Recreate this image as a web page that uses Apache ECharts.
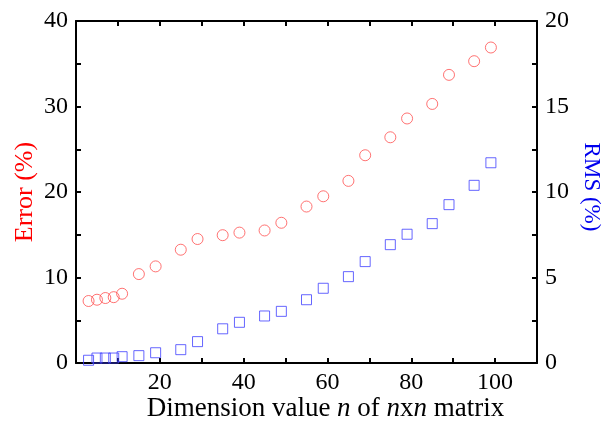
<!DOCTYPE html>
<html><head><meta charset="utf-8">
<script src="https://cdn.jsdelivr.net/npm/echarts@6/dist/echarts.min.js"></script>
<style>html,body{margin:0;padding:0;background:#fff}#c{width:603px;height:426px}</style>
</head><body><div id="c"></div>
<script>
const nValues = [3,5,7,9,11,15,19,25,29,35,39,45,49,55,59,65,69,75,79,85,89,95,99];
const errorValues = [7.25,7.4,7.6,7.7,8.1,10.4,11.3,13.25,14.5,14.95,15.25,15.5,16.4,18.3,19.5,21.3,24.3,26.4,28.6,30.3,33.7,35.3,36.9];
const rmsValues = [0.16,0.29,0.29,0.29,0.37,0.43,0.6,0.78,1.25,2.0,2.38,2.75,3.02,3.7,4.37,5.05,5.93,6.92,7.53,8.15,9.26,10.39,11.71];
const xTickLabels = [20,40,60,80,100];
const leftTickLabels = [0,10,20,30,40];
const rightTickLabels = [0,5,10,15,20];

const FONT = '"Liberation Serif","Times New Roman",serif';
const axisLine = {show:true, onZero:false, lineStyle:{color:'#000', width:2}};
const noTick = {show:false};
// tick-only helper axes moved inside the frame; their outward ticks point back to the frame line
const TL = 5;
const tickOnly = {show:true, inside:false, length:TL, lineStyle:{color:'#000', width:2}};
function tickAxis(base, pos){
  return Object.assign({}, base, {position:pos, offset:-TL, axisLine:{show:false, onZero:false},
    axisTick:tickOnly, axisLabel:{show:false}, splitLine:{show:false}, name:''});
}
const xBase = {type:'value', min:0, max:110, interval:10};
const yLBase = {type:'value', min:0, max:40, interval:5};
const yRBase = {type:'value', min:0, max:20, interval:2.5};

const chart = echarts.init(document.getElementById('c'), null, {renderer:'canvas'});
chart.setOption({
  animation:false,
  backgroundColor:'#fff',
  grid:{left:76, right:66, top:21, bottom:63, containLabel:false, outerBoundsMode:'none'},
  xAxis:[Object.assign({}, xBase, {
    position:'bottom', axisLine, axisTick:noTick, splitLine:{show:false},
    axisLabel:{color:'#000', fontFamily:FONT, fontSize:24, margin:8,
      formatter:v=>xTickLabels.includes(v)?String(v):''},
    name:'Dimension value {i|n} of {i|n}x{i|n} matrix', nameLocation:'middle', nameGap:32,
    nameMoveOverlap:false,
    nameTextStyle:{color:'#000', fontFamily:FONT, fontSize:27, padding:[0,0,0,38],
      rich:{i:{fontStyle:'italic', fontFamily:FONT, fontSize:27, color:'#000'}}}
  }), Object.assign({}, xBase, {
    position:'top', axisLine, axisTick:noTick, axisLabel:{show:false}, splitLine:{show:false}
  }), tickAxis(xBase,'bottom'), tickAxis(xBase,'top')],
  yAxis:[Object.assign({}, yLBase, {
    position:'left', axisLine, axisTick:noTick, splitLine:{show:false},
    axisLabel:{color:'#000', fontFamily:FONT, fontSize:24, margin:8,
      formatter:v=>leftTickLabels.includes(v)?String(v):''},
    name:'Error (%)', nameLocation:'middle', nameGap:38, nameMoveOverlap:false,
    nameTextStyle:{color:'#ff0000', fontFamily:FONT, fontSize:26}
  }), Object.assign({}, yRBase, {
    position:'right', axisLine, axisTick:noTick, splitLine:{show:false},
    axisLabel:{color:'#000', fontFamily:FONT, fontSize:24, margin:8,
      formatter:v=>rightTickLabels.includes(v)?String(v):''},
    name:'RMS (%)', nameLocation:'middle', nameGap:38, nameRotate:-90,
    nameTextStyle:{color:'#0000ee', fontFamily:FONT, fontSize:23, padding:[0,10,0,0]}
  }), tickAxis(yLBase,'left'), tickAxis(yRBase,'right')],
  series:[{
    type:'scatter', xAxisIndex:0, yAxisIndex:0,
    data:nValues.map((n,i)=>[n,errorValues[i]]),
    symbol:'circle', symbolSize:11,
    itemStyle:{color:'rgba(255,255,255,0)', borderColor:'#ff5050', borderWidth:1}
  },{
    type:'scatter', xAxisIndex:0, yAxisIndex:1,
    data:nValues.map((n,i)=>[n,rmsValues[i]]),
    symbol:'rect', symbolSize:10,
    itemStyle:{color:'rgba(255,255,255,0)', borderColor:'#4040ff', borderWidth:1}
  }]
});
</script></body></html>
